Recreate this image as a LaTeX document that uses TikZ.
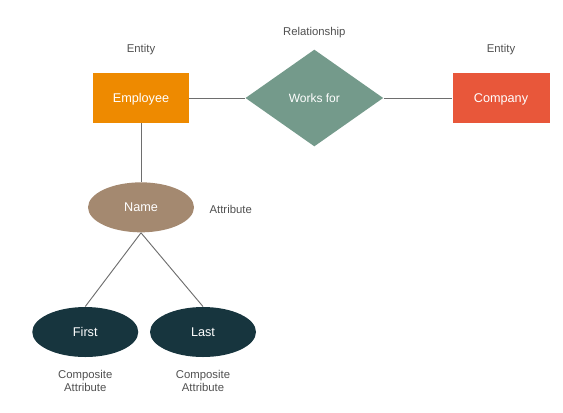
\documentclass[tikz,border=0pt]{standalone}
\usepackage{fontspec}
\setmainfont{Liberation Sans}
\usetikzlibrary{positioning,shapes.geometric}
\definecolor{colent}{RGB}{238,138,0}
\definecolor{colcom}{RGB}{232,87,58}
\definecolor{colrel}{RGB}{116,154,139}
\definecolor{colatt}{RGB}{164,137,112}
\definecolor{colsub}{RGB}{23,53,62}
\definecolor{colline}{RGB}{110,110,110}
\definecolor{collab}{RGB}{80,80,80}
\tikzstyle{ent}=[fill=colent, text=white, minimum width=72pt, minimum height=37.5pt, inner sep=0pt, text depth=0pt, font=\fontsize{9.5}{11}\selectfont]
\tikzstyle{rel}=[diamond, fill=colrel, text=white, minimum width=103.5pt, minimum height=72.75pt, inner sep=0pt, text depth=0pt, font=\fontsize{9}{11}\selectfont]
\tikzstyle{att}=[ellipse, fill=colatt, text=white, minimum width=79.5pt, minimum height=37.5pt, inner sep=0pt, text depth=0pt, font=\fontsize{9.5}{11}\selectfont]
\tikzstyle{sub}=[ellipse, fill=colsub, text=white, minimum width=79.5pt, minimum height=37.5pt, inner sep=0pt, text depth=0pt, font=\fontsize{9.5}{11}\selectfont]
\tikzstyle{lab}=[text=collab, align=center, inner sep=0pt, font=\fontsize{8.5}{10}\selectfont]
\begin{document}
\begin{tikzpicture}[node distance=130pt, colline, line width=0.7pt]
	\useasboundingbox (-105.75pt,-235.5pt) rectangle (316.5pt,73.5pt);
	\node [ent] (emp) {Employee};
	\node [rel] (works) [right of=emp] {Works for};
	\node [ent, fill=colcom, minimum width=72.75pt] (comp) [right of=works, node distance=140pt] {Company};
	\node [att] (name) [below of=emp, node distance=82pt] {Name};
	\node [sub] (first) [below of=name, node distance=93.5pt, xshift=-41.8pt] {First};
	\node [sub] (last) [below of=name, node distance=93.5pt, xshift=46.5pt] {Last};
	\node [lab] (l1) [above of=emp, node distance=36.5pt] {Entity};
	\node [lab] (l2) [above of=works, node distance=48.75pt] {Relationship};
	\node [lab] (l3) [above of=comp, node distance=36.5pt] {Entity};
	\node [lab] (l4) [right of=name, node distance=67.3pt, yshift=-1.7pt] {Attribute};
	\node [lab] (l5) [below of=first, node distance=36.6pt] {Composite\\Attribute};
	\node [lab] (l6) [below of=last, node distance=36.6pt] {Composite\\Attribute};
	\path[-]
	(emp) edge node {} (works)
	(works) edge node {} (comp)
	(emp) edge node {} (name)
	(name.south) edge node {} (first.north)
	(name.south) edge node {} (last.north);
\end{tikzpicture}
\end{document}
